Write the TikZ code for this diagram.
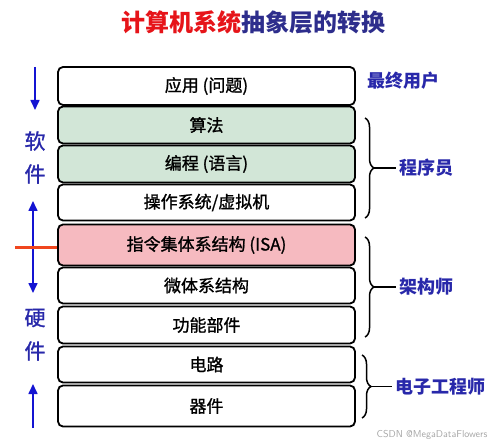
\documentclass[tikz,border=0pt]{standalone}
\usepackage{fontspec}
\newfontfamily\cjk{Noto Sans CJK SC}
\newfontfamily\cjkmid[FakeBold=1.2]{Noto Sans CJK SC}
\usepackage{tikz}
\usetikzlibrary{arrows.meta}
\usetikzlibrary{decorations.pathreplacing}

\definecolor{layergreen}{RGB}{210,230,215}
\definecolor{layerpink}{RGB}{246,186,192}
\definecolor{titlered}{RGB}{230,20,25}
\definecolor{titleblue}{RGB}{45,45,140}
\definecolor{rolblue}{RGB}{40,40,170}
\definecolor{arrblue}{RGB}{20,20,210}
\definecolor{cutred}{RGB}{240,70,30}

\begin{document}
\begin{tikzpicture}
    [
    x=1pt,y=-1pt,
    layer/.style={draw,line width=1.8pt,rounded corners=5pt,minimum width=297pt,
      inner sep=0pt,font=\cjkmid\fontsize{17}{17}\selectfont},
    side/.style={text=rolblue,font=\cjkmid\fontsize{21}{21}\selectfont},
    role/.style={text=rolblue,anchor=west,font=\cjk\bfseries\fontsize{18}{18}\selectfont},
    flow/.style={arrblue,line width=1.6pt,-{Triangle[length=10pt,width=9pt]}},
    group/.style={decorate,decoration={brace,amplitude=9pt},line width=1.5pt},
    ]
    \useasboundingbox (0,0) rectangle (500,446);

    % title
    \node (title) at (253,22) {\cjk\bfseries\fontsize{24}{24}\selectfont
      \textcolor{titlered}{计算机系统}\textcolor{titleblue}{抽象层的转换}};

    % layers, top to bottom
    \foreach \nm/\y/\h/\fc/\txt in {
      app/86/38/white/应用 (问题),
      algo/125/37/layergreen/算法,
      prog/164/37/layergreen/编程 (语言),
      os/202.5/36/white/{操作系统/虚拟机},
      isa/245/41/layerpink/指令集体系结构 (ISA),
      micro/285.5/36/white/微体系结构,
      func/325/37/white/功能部件,
      circ/364.5/36/white/电路,
      dev/406/41/white/器件}
      \node[layer,fill=\fc,minimum height=\h pt] (\nm) at (206.5,\y) {\txt};

    % left side
    \coordinate (swtop) at (35,67);
    \coordinate (swbot) at (35,110);
    \draw[flow] (swtop) -- (swbot);
    \node[side] (sw1) at (35,141) {软};
    \node[side] (sw2) at (35,174) {件};

    \coordinate (cut) at (33,247);
    \coordinate (hwtop) at (33,201);
    \coordinate (hwbot) at (33,293);
    \draw[flow] (cut) -- (hwtop);
    \draw[flow] (cut) -- (hwbot);
    \coordinate (cutl) at (15,0);
    \draw[cutred,line width=3pt] (cutl |- cut) -- (cut -| isa.west);

    \node[side] (hw1) at (35,318) {硬};
    \node[side] (hw2) at (35,351) {件};
    \coordinate (uptail) at (33,428);
    \coordinate (uphead) at (33,384);
    \draw[flow] (uptail) -- (uphead);

    % right side
    \node[role] (user) at (364,81) {最终用户};

    \coordinate (b1t) at (365,118);
    \coordinate (b1b) at (365,218);
    \draw[group] (b1t) -- (b1b);
    \node[role] (coder) at (396,168) {程序员};
    \draw[line width=1.5pt] (374,168) -- (coder.west);

    \coordinate (b2t) at (365,237);
    \coordinate (b2b) at (365,337);
    \draw[group] (b2t) -- (b2b);
    \node[role] (arch) at (396,287) {架构师};
    \draw[line width=1.5pt] (374,287) -- (arch.west);

    \coordinate (b3t) at (362,355);
    \coordinate (b3b) at (362,418);
    \draw[group] (b3t) -- (b3b);
    \node[role] (eng) at (392,386.5) {电子工程师};
    \draw[line width=1.5pt] (371,386.5) -- (eng.west);

    \node[text=black!35,font=\sffamily\fontsize{10}{10}\selectfont] (mark) at (432,435) {CSDN @MegaDataFlowers};
  \end{tikzpicture}
\end{document}
